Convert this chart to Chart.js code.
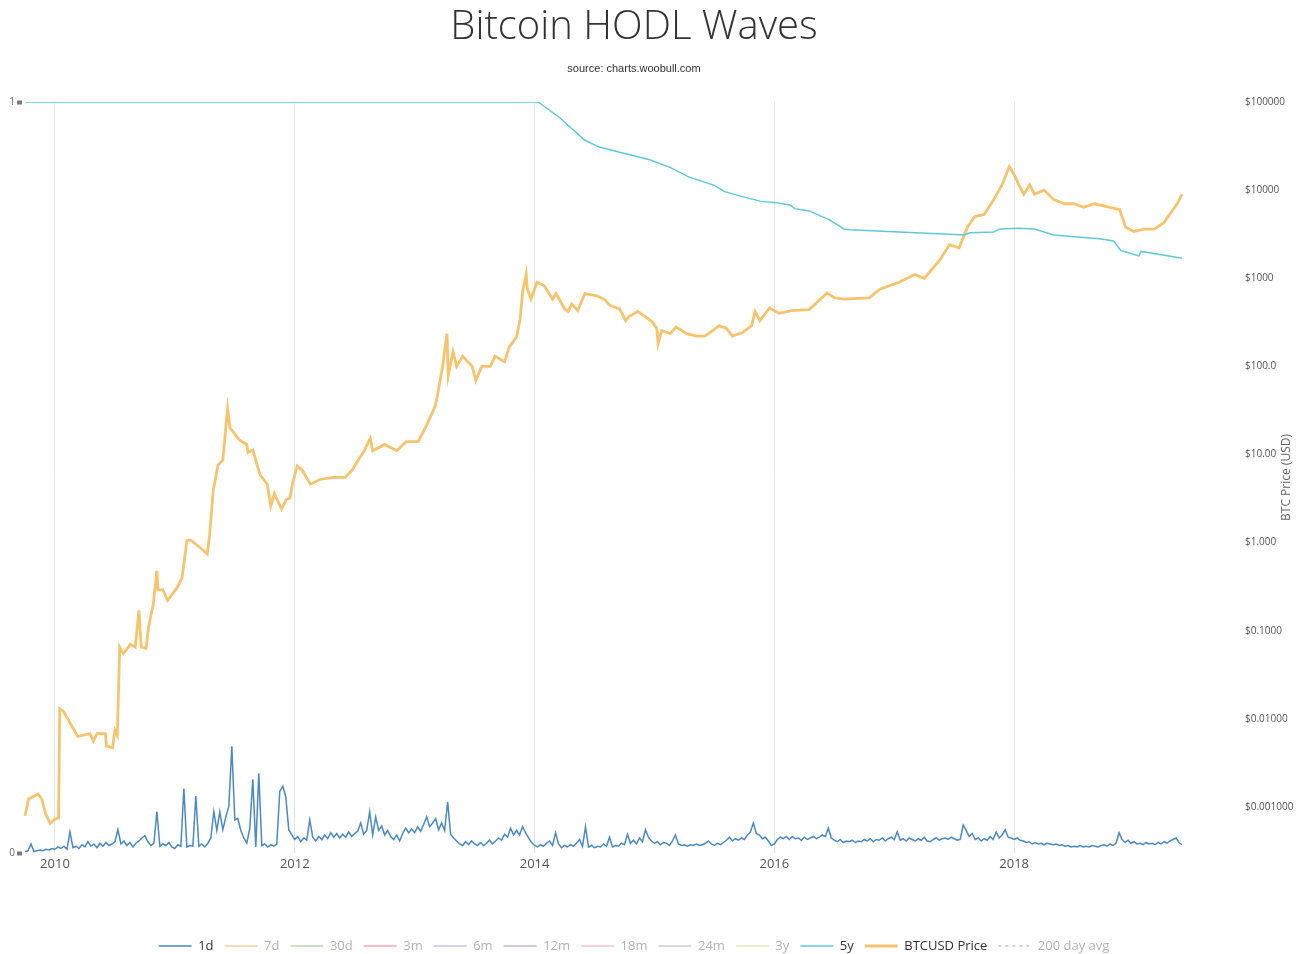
<!DOCTYPE html>
<html>
<head>
<meta charset="utf-8">
<title>Bitcoin HODL Waves</title>
<script src="https://cdn.jsdelivr.net/npm/chart.js@4.4.1/dist/chart.umd.min.js"></script>
<style>
  html, body { margin: 0; padding: 0; background: #fff; }
  canvas { display: block; }
</style>
</head>
<body>
<canvas id="hodlChart" width="1300" height="954"></canvas>
<script>
// legend entries, in legend order
const bandNames = ['1d', '7d', '30d', '3m', '6m', '12m', '18m', '24m', '3y', '5y'];
const bandColors = ['#4a89c5', '#f8cda6', '#b8daad', '#f2a7b0', '#c4c5eb', '#cbbacd', '#f5c5d6', '#cdcdcd', '#e2eab7', '#5fc9d9'];

// year positions on the x axis
const yearTicks = [2010, 2012, 2014, 2016, 2018];
// price axis ticks (USD, log scale)
const priceTicks = [0.001, 0.01, 0.1, 1, 10, 100, 1000, 10000, 100000];

// 1d band, share of supply, one sample every 0.025 year from 2009.75
const oneDayStart = 2009.75;
const oneDayStep = 0.025;
const oneDayValues = [
    0.002, 0.003, 0.012, 0.002, 0.003, 0.004, 0.003, 0.005, 0.004, 0.006,
    // 2010
    0.005, 0.008, 0.006, 0.009, 0.005, 0.028, 0.007, 0.009, 0.006, 0.011, 0.008, 0.015, 0.009, 0.012, 0.007, 0.013, 0.009, 0.014, 0.010, 0.012,
    0.015, 0.031, 0.012, 0.016, 0.010, 0.014, 0.008, 0.013, 0.016, 0.020, 0.023, 0.015, 0.010, 0.013, 0.055, 0.009, 0.012, 0.010, 0.014, 0.008,
    // 2011
    0.006, 0.011, 0.009, 0.086, 0.008, 0.010, 0.009, 0.076, 0.009, 0.012, 0.008, 0.013, 0.020, 0.055, 0.030, 0.055, 0.031, 0.048, 0.062, 0.142,
    0.044, 0.046, 0.030, 0.020, 0.013, 0.033, 0.098, 0.008, 0.106, 0.010, 0.012, 0.008, 0.011, 0.009, 0.012, 0.082, 0.089, 0.075, 0.031, 0.024,
    // 2012
    0.018, 0.022, 0.015, 0.020, 0.017, 0.044, 0.021, 0.016, 0.022, 0.018, 0.024, 0.019, 0.027, 0.021, 0.026, 0.020, 0.025, 0.021, 0.028, 0.022,
    0.026, 0.029, 0.040, 0.025, 0.030, 0.055, 0.024, 0.048, 0.030, 0.036, 0.024, 0.030, 0.022, 0.018, 0.024, 0.016, 0.026, 0.033, 0.027, 0.032,
    // 2013
    0.027, 0.035, 0.029, 0.038, 0.048, 0.035, 0.040, 0.046, 0.031, 0.040, 0.030, 0.068, 0.025, 0.020, 0.016, 0.012, 0.010, 0.015, 0.011, 0.016,
    0.012, 0.010, 0.014, 0.010, 0.013, 0.017, 0.012, 0.016, 0.020, 0.017, 0.025, 0.021, 0.033, 0.024, 0.030, 0.024, 0.035, 0.027, 0.020, 0.014,
    // 2014
    0.010, 0.008, 0.011, 0.009, 0.013, 0.016, 0.010, 0.027, 0.012, 0.007, 0.010, 0.008, 0.011, 0.009, 0.013, 0.018, 0.009, 0.035, 0.008, 0.010,
    0.007, 0.009, 0.008, 0.012, 0.009, 0.021, 0.008, 0.010, 0.009, 0.013, 0.011, 0.025, 0.013, 0.017, 0.012, 0.020, 0.015, 0.031, 0.021, 0.016,
    // 2015
    0.013, 0.015, 0.011, 0.014, 0.013, 0.010, 0.016, 0.024, 0.012, 0.010, 0.011, 0.009, 0.011, 0.010, 0.012, 0.010, 0.011, 0.013, 0.016, 0.012,
    0.010, 0.013, 0.011, 0.014, 0.017, 0.021, 0.016, 0.019, 0.017, 0.020, 0.018, 0.024, 0.028, 0.040, 0.026, 0.024, 0.019, 0.021, 0.016, 0.010,
    // 2016
    0.012, 0.018, 0.021, 0.019, 0.022, 0.018, 0.022, 0.019, 0.020, 0.017, 0.021, 0.018, 0.020, 0.022, 0.019, 0.021, 0.024, 0.022, 0.033, 0.020,
    0.017, 0.015, 0.018, 0.014, 0.016, 0.015, 0.017, 0.014, 0.016, 0.015, 0.018, 0.016, 0.019, 0.015, 0.018, 0.017, 0.020, 0.016, 0.019, 0.021,
    // 2017
    0.018, 0.028, 0.017, 0.019, 0.016, 0.020, 0.018, 0.016, 0.019, 0.017, 0.021, 0.016, 0.015, 0.018, 0.020, 0.017, 0.019, 0.020, 0.018, 0.021,
    0.019, 0.017, 0.018, 0.037, 0.030, 0.022, 0.026, 0.018, 0.020, 0.016, 0.019, 0.017, 0.022, 0.018, 0.028, 0.020, 0.024, 0.031, 0.021, 0.020,
    // 2018
    0.018, 0.020, 0.017, 0.016, 0.014, 0.015, 0.012, 0.014, 0.012, 0.013, 0.011, 0.013, 0.012, 0.011, 0.012, 0.010, 0.011, 0.009, 0.010, 0.008,
    0.009, 0.008, 0.010, 0.008, 0.009, 0.008, 0.010, 0.009, 0.008, 0.010, 0.011, 0.009, 0.012, 0.010, 0.013, 0.027, 0.018, 0.014, 0.017, 0.013,
    // 2019
    0.015, 0.012, 0.013, 0.011, 0.014, 0.012, 0.013, 0.011, 0.014, 0.012, 0.015, 0.013, 0.016, 0.018, 0.020, 0.014, 0.011
];

// 5y band
const fiveYearYears = [2009.75, 2014.03, 2014.04, 2014.21, 2014.42, 2014.54, 2014.71, 2014.96, 2015.13, 2015.29, 2015.50, 2015.58, 2015.71, 2015.88, 2016.01, 2016.13, 2016.17, 2016.29, 2016.46, 2016.58, 2016.63, 2017.04, 2017.46, 2017.58, 2017.63, 2017.83, 2017.88, 2018.04, 2018.17, 2018.33, 2018.71, 2018.83, 2018.89, 2018.96, 2019.04, 2019.06, 2019.29, 2019.40];
const fiveYearValues = [1.0, 1.0, 0.999, 0.979, 0.949, 0.940, 0.933, 0.923, 0.913, 0.900, 0.889, 0.881, 0.875, 0.868, 0.866, 0.863, 0.858, 0.855, 0.843, 0.831, 0.830, 0.827, 0.824, 0.823, 0.826, 0.827, 0.831, 0.832, 0.831, 0.823, 0.818, 0.815, 0.802, 0.799, 0.795, 0.801, 0.795, 0.792];

// BTCUSD price
const priceYears = [2009.75, 2009.78, 2009.86, 2009.89, 2009.92, 2009.96, 2010.00, 2010.03, 2010.04, 2010.07, 2010.19, 2010.29, 2010.32, 2010.35, 2010.42, 2010.43, 2010.48, 2010.50, 2010.52, 2010.54, 2010.57, 2010.63, 2010.67, 2010.70, 2010.72, 2010.76, 2010.78, 2010.82, 2010.85, 2010.86, 2010.90, 2010.94, 2011.02, 2011.06, 2011.10, 2011.13, 2011.21, 2011.27, 2011.29, 2011.32, 2011.36, 2011.40, 2011.44, 2011.46, 2011.54, 2011.60, 2011.61, 2011.65, 2011.71, 2011.77, 2011.80, 2011.83, 2011.89, 2011.93, 2011.96, 2011.98, 2012.02, 2012.06, 2012.13, 2012.21, 2012.32, 2012.42, 2012.48, 2012.54, 2012.58, 2012.63, 2012.65, 2012.75, 2012.85, 2012.93, 2013.03, 2013.10, 2013.17, 2013.19, 2013.23, 2013.27, 2013.28, 2013.32, 2013.35, 2013.40, 2013.48, 2013.51, 2013.56, 2013.63, 2013.67, 2013.75, 2013.79, 2013.85, 2013.88, 2013.90, 2013.93, 2013.94, 2013.97, 2014.02, 2014.08, 2014.15, 2014.18, 2014.25, 2014.28, 2014.31, 2014.36, 2014.42, 2014.52, 2014.58, 2014.63, 2014.71, 2014.76, 2014.79, 2014.86, 2014.92, 2014.98, 2015.02, 2015.03, 2015.06, 2015.13, 2015.18, 2015.27, 2015.35, 2015.42, 2015.46, 2015.54, 2015.60, 2015.65, 2015.73, 2015.81, 2015.84, 2015.88, 2015.96, 2016.04, 2016.14, 2016.29, 2016.44, 2016.50, 2016.58, 2016.79, 2016.88, 2017.04, 2017.17, 2017.25, 2017.38, 2017.46, 2017.54, 2017.61, 2017.67, 2017.75, 2017.83, 2017.90, 2017.96, 2018.00, 2018.04, 2018.08, 2018.13, 2018.17, 2018.25, 2018.33, 2018.42, 2018.50, 2018.58, 2018.67, 2018.79, 2018.88, 2018.93, 2019.00, 2019.08, 2019.17, 2019.25, 2019.31, 2019.36, 2019.40];
const priceValues = [0.00079, 0.00123, 0.0014, 0.00123, 0.00085, 0.00065, 0.00073, 0.00075, 0.013, 0.0122, 0.0063, 0.0068, 0.0056, 0.0068, 0.0068, 0.0049, 0.0047, 0.0074, 0.0065, 0.065, 0.055, 0.07, 0.065, 0.17, 0.065, 0.063, 0.11, 0.2, 0.48, 0.29, 0.29, 0.22, 0.31, 0.40, 1.05, 1.07, 0.88, 0.74, 1.23, 3.9, 7.6, 8.6, 33, 20, 14.5, 13, 10.5, 11.3, 5.9, 4.6, 2.6, 3.6, 2.4, 3.1, 3.2, 4.6, 7.4, 6.7, 4.6, 5.2, 5.5, 5.5, 6.7, 9.1, 11, 15.3, 11, 13, 11, 14, 14, 21.5, 35, 47, 94, 234, 79, 147, 100, 130, 100, 69, 100, 100, 130, 113, 167, 215, 345, 700, 1115, 750, 580, 900, 820, 580, 670, 450, 420, 510, 430, 670, 630, 580, 490, 450, 330, 370, 420, 370, 320, 270, 181, 255, 235, 280, 235, 220, 220, 240, 290, 270, 220, 240, 290, 420, 330, 460, 400, 430, 440, 680, 600, 580, 600, 750, 900, 1100, 1000, 1600, 2400, 2200, 3800, 5000, 5300, 7800, 11500, 18500, 15000, 11500, 9000, 11500, 9000, 10000, 7800, 7000, 7000, 6400, 7000, 6400, 6000, 3800, 3400, 3600, 3600, 4300, 5600, 7000, 9000];

function toPoints(xs, ys) {
    return xs.map((x, i) => ({ x: x, y: ys[i] }));
}

function oneDayPoints() {
    return oneDayValues.map((v, i) => ({ x: oneDayStart + i * oneDayStep, y: v }));
}

function priceLabel(v) {
    return v >= 1000 ? '$' + v : '$' + v.toPrecision(4);
}

Chart.defaults.font.family = "'Open Sans', sans-serif";
Chart.defaults.color = '#555';

const datasets = bandNames.map((name, i) => {
    let data = [];
    if (name === '1d') data = oneDayPoints();
    if (name === '5y') data = toPoints(fiveYearYears, fiveYearValues);
    return {
        label: name,
        data: data,
        yAxisID: 'y',
        borderColor: bandColors[i],
        backgroundColor: bandColors[i],
        borderWidth: 1.5,
        pointRadius: 0,
        tension: 0
    };
});

datasets.push({
    label: 'BTCUSD Price',
    data: toPoints(priceYears, priceValues),
    yAxisID: 'price',
    borderColor: '#f6c46e',
    backgroundColor: '#f6c46e',
    borderWidth: 2.8,
    pointRadius: 0,
    tension: 0
});

// moving average is switched off, only its legend entry shows
datasets.push({
    label: '200 day avg',
    data: [],
    yAxisID: 'price',
    borderColor: '#c4c4c4',
    backgroundColor: '#c4c4c4',
    borderWidth: 1.5,
    borderDash: [3, 4],
    pointRadius: 0
});

// rotated price axis title, reading upwards
const sideTitle = {
    id: 'sideTitle',
    afterDraw(chart) {
        const { ctx, chartArea } = chart;
        const scale = chart.scales.price;
        ctx.save();
        ctx.translate(scale.right - 13, (chartArea.top + chartArea.bottom) / 2);
        ctx.rotate(-Math.PI / 2);
        ctx.font = "12px 'Open Sans', sans-serif";
        ctx.fillStyle = '#666';
        ctx.textAlign = 'center';
        ctx.textBaseline = 'middle';
        ctx.fillText('BTC Price (USD)', 0, 0);
        ctx.restore();
    }
};

const ctx = document.getElementById('hodlChart').getContext('2d');

const hodlChart = new Chart(ctx, {
    type: 'line',
    data: { datasets: datasets },
    plugins: [sideTitle],
    options: {
        responsive: false,
        animation: false,
        devicePixelRatio: 1,
        layout: { padding: { left: -32, top: 0, right: 0, bottom: -8.5 } },
        plugins: {
            title: {
                display: true,
                text: 'Bitcoin HODL Waves',
                color: '#333',
                font: { size: 40, weight: '300' },
                padding: { top: 4, bottom: 0 }
            },
            subtitle: {
                display: true,
                text: 'source: charts.woobull.com',
                color: '#333',
                font: { family: "'Liberation Sans', Arial, sans-serif", size: 11 },
                padding: { top: 9.9, bottom: 26.9 }
            },
            legend: {
                position: 'bottom',
                labels: {
                    boxWidth: 33,
                    boxHeight: 0,
                    padding: 11,
                    font: { size: 13 },
                    generateLabels(chart) {
                        const items = Chart.defaults.plugins.legend.labels.generateLabels(chart);
                        items.forEach(item => {
                            const ds = chart.data.datasets[item.datasetIndex];
                            item.fontColor = ds.data.length ? '#333' : '#b3b3b3';
                            item.lineWidth = ds.label === 'BTCUSD Price' ? 3 : 1.5;
                            // the swatch is a zero-height rect, so the dash has to line up on the way back
                            item.lineDash = ds.borderDash || [];
                        });
                        return items;
                    }
                }
            },
            tooltip: { enabled: false }
        },
        scales: {
            x: {
                type: 'linear',
                min: 2009.725,
                max: 2019.425,
                afterBuildTicks(scale) {
                    scale.ticks = yearTicks.map(v => ({ value: v }));
                },
                afterFit(scale) {
                    scale.height = 75.5;
                },
                ticks: {
                    padding: 3,
                    color: '#555',
                    font: { size: 13 },
                    callback: v => String(v)
                },
                grid: { color: '#e6e6e6', drawTicks: false },
                border: { display: false }
            },
            y: {
                position: 'left',
                min: 0,
                max: 1,
                afterBuildTicks(scale) {
                    scale.ticks = [{ value: 0 }, { value: 1 }];
                },
                afterFit(scale) {
                    scale.width = 54;
                },
                ticks: {
                    padding: 2,
                    color: '#666',
                    font: { size: 10 },
                    callback: v => String(v)
                },
                grid: {
                    drawOnChartArea: false,
                    tickLength: 5,
                    tickWidth: 4,
                    tickColor: '#7a7a7a'
                },
                border: { display: false }
            },
            price: {
                type: 'logarithmic',
                position: 'right',
                min: 0.000327,
                max: 100000,
                afterBuildTicks(scale) {
                    scale.ticks = priceTicks.map(v => ({ value: v }));
                },
                afterFit(scale) {
                    scale.width = 115;
                },
                ticks: {
                    padding: 60,
                    color: '#555',
                    font: { size: 10 },
                    callback: v => priceLabel(v)
                },
                grid: { display: false, drawTicks: false },
                border: { display: false }
            }
        }
    }
});
</script>
</body>
</html>
